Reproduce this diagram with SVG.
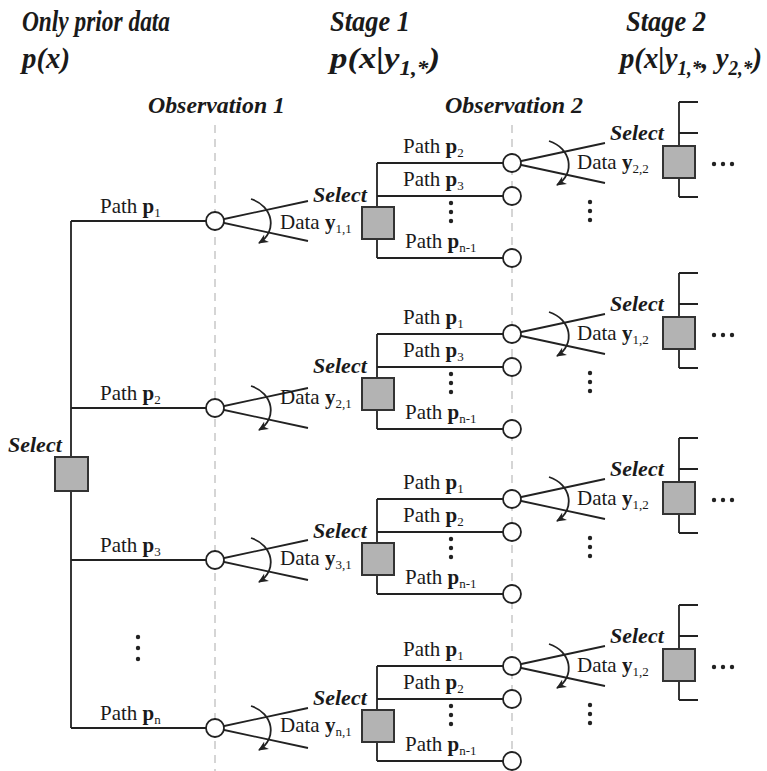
<svg xmlns="http://www.w3.org/2000/svg" width="767" height="771" viewBox="0 0 767 771">
<defs>
<style>
text{font-family:"Liberation Serif","Times New Roman",serif;fill:#1a1a1a}
.bi{font-weight:bold;font-style:italic}
.hd{font-size:30px}
.ob{font-size:23px}
.sel{font-size:22px;font-weight:bold;font-style:italic}
.lb{font-size:21px}
.b{font-weight:bold}
.sub{font-size:13px}
.ln{stroke:#222;stroke-width:1.8;fill:none}
.dash{stroke:#c8c8c8;stroke-width:1.5;stroke-dasharray:8 6;fill:none}
.node{fill:#fff;stroke:#222;stroke-width:1.8}
.box{fill:#b3b3b3;stroke:#333;stroke-width:2}
.dot{fill:#222}
</style>
<marker id="ah" viewBox="0 0 10 10" refX="9" refY="5" markerWidth="10" markerHeight="10" orient="auto" markerUnits="userSpaceOnUse">
<path d="M0,0.5 L10,5 L0,9.5 L3,5 z" fill="#222"/>
</marker>
</defs>

<g id="headers">
<text class="bi hd" x="22" y="31" textLength="148" lengthAdjust="spacingAndGlyphs">Only prior data</text>
<text class="bi hd" x="22" y="68" textLength="48" lengthAdjust="spacingAndGlyphs">p(x)</text>
<text class="bi hd" x="330" y="31" textLength="80" lengthAdjust="spacingAndGlyphs">Stage 1</text>
<text class="bi hd" x="330" y="68" textLength="110" lengthAdjust="spacingAndGlyphs">p(x|y<tspan dy="7" font-size="20">1,*</tspan><tspan dy="-7">)</tspan></text>
<text class="bi hd" x="626" y="31" textLength="80" lengthAdjust="spacingAndGlyphs">Stage 2</text>
<text class="bi hd" x="620" y="68" textLength="142" lengthAdjust="spacingAndGlyphs">p(x|y<tspan dy="7" font-size="20">1,*</tspan><tspan dy="-7">, y</tspan><tspan dy="7" font-size="20">2,*</tspan><tspan dy="-7">)</tspan></text>
<text class="bi ob" x="148" y="113" textLength="137" lengthAdjust="spacingAndGlyphs">Observation 1</text>
<text class="bi ob" x="445" y="113" textLength="138" lengthAdjust="spacingAndGlyphs">Observation 2</text>
</g>

<g id="guides">
<line class="dash" x1="215" y1="125" x2="215" y2="771"/>
<line class="dash" x1="512" y1="125" x2="512" y2="771"/>
</g>

<g id="connectors">
<path class="ln" d="M71,221 V728 M71,221 H215 M71,408 H215 M71,560 H215 M71,728 H215"/>
<path class="ln" d="M215,221 L308,201 M215,221 L308,241 M215,408 L308,388 M215,408 L308,428 M215,560 L308,540 M215,560 L308,580 M215,728 L308,708 M215,728 L308,748"/>
<path class="ln" marker-end="url(#ah)" d="M251,199 C273,206 278,231 259,243"/>
<path class="ln" marker-end="url(#ah)" d="M251,386 C273,393 278,418 259,430"/>
<path class="ln" marker-end="url(#ah)" d="M251,538 C273,545 278,570 259,582"/>
<path class="ln" marker-end="url(#ah)" d="M251,706 C273,713 278,738 259,750"/>
<path class="ln" d="M377,163 V258 M377,163 H512 M377,196 H512 M377,258 H512"/>
<path class="ln" d="M377,334 V429 M377,334 H512 M377,367 H512 M377,429 H512"/>
<path class="ln" d="M377,499 V594 M377,499 H512 M377,532 H512 M377,594 H512"/>
<path class="ln" d="M377,666 V761 M377,666 H512 M377,699 H512 M377,761 H512"/>
<path class="ln" d="M512,163 L605,143 M512,163 L605,183 M512,334 L605,314 M512,334 L605,354 M512,499 L605,479 M512,499 L605,519 M512,666 L605,646 M512,666 L605,686"/>
<path class="ln" marker-end="url(#ah)" d="M549,141 C571,148 576,173 557,185"/>
<path class="ln" marker-end="url(#ah)" d="M549,312 C571,319 576,344 557,356"/>
<path class="ln" marker-end="url(#ah)" d="M549,477 C571,484 576,509 557,521"/>
<path class="ln" marker-end="url(#ah)" d="M549,644 C571,651 576,676 557,688"/>
<path class="ln" d="M679,102 V197 M679,102 H698 M679,133 H698 M679,197 H698"/>
<path class="ln" d="M679,273 V368 M679,273 H698 M679,304 H698 M679,368 H698"/>
<path class="ln" d="M679,438 V533 M679,438 H698 M679,469 H698 M679,533 H698"/>
<path class="ln" d="M679,605 V700 M679,605 H698 M679,636 H698 M679,700 H698"/>
</g>

<g id="root">
<rect class="box" x="55" y="457" width="33" height="34"/>
<text class="sel" x="8" y="452">Select</text>
<text class="lb" x="100" y="213">Path <tspan class="b">p</tspan><tspan class="sub" dy="4">1</tspan></text>
<text class="lb" x="100" y="400">Path <tspan class="b">p</tspan><tspan class="sub" dy="4">2</tspan></text>
<text class="lb" x="100" y="552">Path <tspan class="b">p</tspan><tspan class="sub" dy="4">3</tspan></text>
<text class="lb" x="100" y="720">Path <tspan class="b">p</tspan><tspan class="sub" dy="4">n</tspan></text>
<circle class="dot" cx="138" cy="637" r="2.2"/><circle class="dot" cx="138" cy="648" r="2.2"/><circle class="dot" cx="138" cy="659" r="2.2"/>
</g>

<g id="obs1-n1"><circle class="node" cx="215" cy="221" r="9"/></g>
<g id="obs1-n2"><circle class="node" cx="215" cy="408" r="9"/></g>
<g id="obs1-n3"><circle class="node" cx="215" cy="560" r="9"/></g>
<g id="obs1-n4"><circle class="node" cx="215" cy="728" r="9"/></g>

<g id="stage1-b1">
<rect class="box" x="362" y="207" width="32" height="32"/>
<text class="sel" x="313" y="202">Select</text>
<text class="lb" x="280" y="229">Data <tspan class="b">y</tspan><tspan class="sub" dy="4">1,1</tspan></text>
<text class="lb" x="403" y="153">Path <tspan class="b">p</tspan><tspan class="sub" dy="4">2</tspan></text>
<text class="lb" x="403" y="186">Path <tspan class="b">p</tspan><tspan class="sub" dy="4">3</tspan></text>
<text class="lb" x="405" y="248">Path <tspan class="b">p</tspan><tspan class="sub" dy="4">n-1</tspan></text>
<circle class="dot" cx="451" cy="203" r="2.2"/><circle class="dot" cx="451" cy="212" r="2.2"/><circle class="dot" cx="451" cy="221" r="2.2"/>
<circle class="node" cx="512" cy="163" r="9"/><circle class="node" cx="512" cy="196" r="9"/><circle class="node" cx="512" cy="258" r="9"/>
</g>
<g id="stage1-b2">
<rect class="box" x="362" y="378" width="32" height="32"/>
<text class="sel" x="313" y="373">Select</text>
<text class="lb" x="280" y="404">Data <tspan class="b">y</tspan><tspan class="sub" dy="4">2,1</tspan></text>
<text class="lb" x="403" y="324">Path <tspan class="b">p</tspan><tspan class="sub" dy="4">1</tspan></text>
<text class="lb" x="403" y="357">Path <tspan class="b">p</tspan><tspan class="sub" dy="4">3</tspan></text>
<text class="lb" x="405" y="419">Path <tspan class="b">p</tspan><tspan class="sub" dy="4">n-1</tspan></text>
<circle class="dot" cx="451" cy="374" r="2.2"/><circle class="dot" cx="451" cy="383" r="2.2"/><circle class="dot" cx="451" cy="392" r="2.2"/>
<circle class="node" cx="512" cy="334" r="9"/><circle class="node" cx="512" cy="367" r="9"/><circle class="node" cx="512" cy="429" r="9"/>
</g>
<g id="stage1-b3">
<rect class="box" x="362" y="543" width="32" height="32"/>
<text class="sel" x="313" y="538">Select</text>
<text class="lb" x="280" y="565">Data <tspan class="b">y</tspan><tspan class="sub" dy="4">3,1</tspan></text>
<text class="lb" x="403" y="489">Path <tspan class="b">p</tspan><tspan class="sub" dy="4">1</tspan></text>
<text class="lb" x="403" y="522">Path <tspan class="b">p</tspan><tspan class="sub" dy="4">2</tspan></text>
<text class="lb" x="405" y="584">Path <tspan class="b">p</tspan><tspan class="sub" dy="4">n-1</tspan></text>
<circle class="dot" cx="451" cy="539" r="2.2"/><circle class="dot" cx="451" cy="548" r="2.2"/><circle class="dot" cx="451" cy="557" r="2.2"/>
<circle class="node" cx="512" cy="499" r="9"/><circle class="node" cx="512" cy="532" r="9"/><circle class="node" cx="512" cy="594" r="9"/>
</g>
<g id="stage1-b4">
<rect class="box" x="362" y="710" width="32" height="32"/>
<text class="sel" x="313" y="705">Select</text>
<text class="lb" x="280" y="732">Data <tspan class="b">y</tspan><tspan class="sub" dy="4">n,1</tspan></text>
<text class="lb" x="403" y="656">Path <tspan class="b">p</tspan><tspan class="sub" dy="4">1</tspan></text>
<text class="lb" x="403" y="689">Path <tspan class="b">p</tspan><tspan class="sub" dy="4">2</tspan></text>
<text class="lb" x="405" y="751">Path <tspan class="b">p</tspan><tspan class="sub" dy="4">n-1</tspan></text>
<circle class="dot" cx="451" cy="706" r="2.2"/><circle class="dot" cx="451" cy="715" r="2.2"/><circle class="dot" cx="451" cy="724" r="2.2"/>
<circle class="node" cx="512" cy="666" r="9"/><circle class="node" cx="512" cy="699" r="9"/><circle class="node" cx="512" cy="761" r="9"/>
</g>

<g id="stage2-b1">
<rect class="box" x="663" y="146" width="32" height="32"/>
<text class="sel" x="610" y="140">Select</text>
<text class="lb" x="577" y="169">Data <tspan class="b">y</tspan><tspan class="sub" dy="4">2,2</tspan></text>
<circle class="dot" cx="590" cy="202" r="2.2"/><circle class="dot" cx="590" cy="211" r="2.2"/><circle class="dot" cx="590" cy="220" r="2.2"/>
<circle class="dot" cx="714" cy="164" r="2.2"/><circle class="dot" cx="723" cy="164" r="2.2"/><circle class="dot" cx="732" cy="164" r="2.2"/>
</g>
<g id="stage2-b2">
<rect class="box" x="663" y="317" width="32" height="32"/>
<text class="sel" x="610" y="311">Select</text>
<text class="lb" x="577" y="340">Data <tspan class="b">y</tspan><tspan class="sub" dy="4">1,2</tspan></text>
<circle class="dot" cx="590" cy="373" r="2.2"/><circle class="dot" cx="590" cy="382" r="2.2"/><circle class="dot" cx="590" cy="391" r="2.2"/>
<circle class="dot" cx="714" cy="335" r="2.2"/><circle class="dot" cx="723" cy="335" r="2.2"/><circle class="dot" cx="732" cy="335" r="2.2"/>
</g>
<g id="stage2-b3">
<rect class="box" x="663" y="482" width="32" height="32"/>
<text class="sel" x="610" y="476">Select</text>
<text class="lb" x="577" y="505">Data <tspan class="b">y</tspan><tspan class="sub" dy="4">1,2</tspan></text>
<circle class="dot" cx="590" cy="538" r="2.2"/><circle class="dot" cx="590" cy="547" r="2.2"/><circle class="dot" cx="590" cy="556" r="2.2"/>
<circle class="dot" cx="714" cy="500" r="2.2"/><circle class="dot" cx="723" cy="500" r="2.2"/><circle class="dot" cx="732" cy="500" r="2.2"/>
</g>
<g id="stage2-b4">
<rect class="box" x="663" y="649" width="32" height="32"/>
<text class="sel" x="610" y="643">Select</text>
<text class="lb" x="577" y="672">Data <tspan class="b">y</tspan><tspan class="sub" dy="4">1,2</tspan></text>
<circle class="dot" cx="590" cy="705" r="2.2"/><circle class="dot" cx="590" cy="714" r="2.2"/><circle class="dot" cx="590" cy="723" r="2.2"/>
<circle class="dot" cx="714" cy="667" r="2.2"/><circle class="dot" cx="723" cy="667" r="2.2"/><circle class="dot" cx="732" cy="667" r="2.2"/>
</g>
</svg>
